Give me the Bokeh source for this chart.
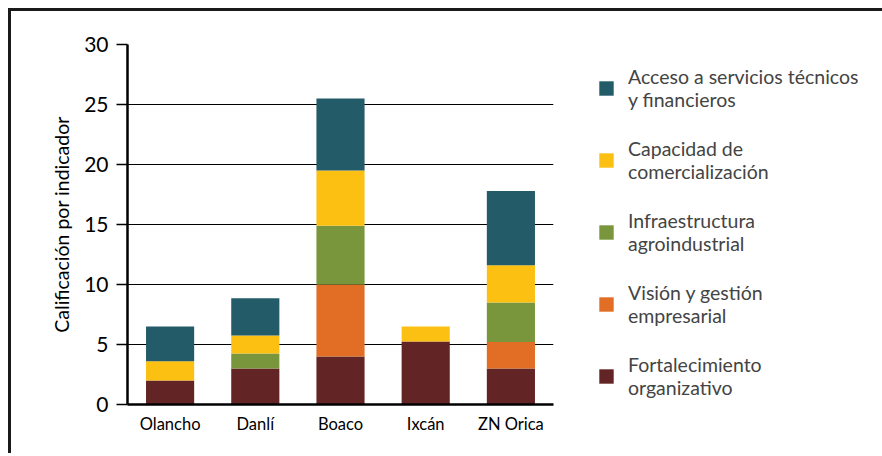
from bokeh.plotting import figure
from bokeh.models import Legend, LegendItem, FixedTicker, Range1d, FactorRange
from bokeh.embed import file_html
from bokeh.resources import INLINE

sites = ["Olancho", "Danlí", "Boaco", "Ixcán", "ZN Orica"]
fortalecimiento = [2.0, 3.0, 4.0, 5.25, 3.0]
vision = [0.0, 0.0, 6.0, 0.0, 2.2]
infraestructura = [0.0, 1.25, 4.9, 0.0, 3.3]
capacidad = [1.6, 1.5, 4.6, 1.25, 3.1]
acceso = [2.9, 3.1, 6.0, 0.0, 6.2]

series_keys = ["fort", "vis", "infra", "cap", "acc"]
series_labels = [
    "Fortalecimiento\norganizativo",
    "Visión y gestión\nempresarial",
    "Infraestructura\nagroindustrial",
    "Capacidad de\ncomercialización",
    "Acceso a servicios técnicos\ny financieros",
]
colors = ["#632425", "#E26D25", "#79963C", "#FBC012", "#235B68"]
y_ticks = [0, 5, 10, 15, 20, 25, 30]

FONT = "Lato"

data = dict(site=sites, fort=fortalecimiento, vis=vision, infra=infraestructura,
            cap=capacidad, acc=acceso)

p = figure(x_range=FactorRange(*sites, range_padding=0), y_range=Range1d(0, 30),
           frame_width=426, frame_height=360, output_backend="svg", toolbar_location=None,
           min_border_left=116, min_border_right=12, min_border_top=33, min_border_bottom=49)
p.styles = {"position": "absolute", "left": "8px", "top": "8px",
            "border-top": "3px solid #1a1a1a", "border-left": "3px solid #1a1a1a"}
p.outline_line_color = None
p.background_fill_color = "white"

renderers = p.vbar_stack(series_keys, x="site", width=0.565, color=colors, source=data,
                         line_color=None)

p.xgrid.grid_line_color = None
p.ygrid.grid_line_color = "black"
p.ygrid.grid_line_width = 1.2
p.ygrid.ticker = FixedTicker(ticks=y_ticks)

p.yaxis.ticker = FixedTicker(ticks=y_ticks)
p.yaxis.axis_line_width = 2.5
p.yaxis.axis_line_color = "black"
p.yaxis.major_tick_line_color = "black"
p.yaxis.major_tick_line_width = 1.5
p.yaxis.major_tick_out = 11
p.yaxis.major_tick_in = 0
p.yaxis.minor_tick_line_color = None
p.yaxis.major_label_text_font = FONT
p.yaxis.major_label_text_font_size = "21px"
p.yaxis.major_label_text_color = "black"
p.yaxis.major_label_standoff = 8
p.yaxis.axis_label = "Calificación por indicador"
p.yaxis.axis_label_text_font = FONT
p.yaxis.axis_label_text_font_size = "19.5px"
p.yaxis.axis_label_text_font_style = "normal"
p.yaxis.axis_label_text_color = "black"
p.yaxis.axis_label_standoff = 8

p.xaxis.axis_line_width = 2.5
p.xaxis.axis_line_color = "black"
p.xaxis.major_tick_line_color = None
p.xaxis.major_tick_out = 0
p.xaxis.major_tick_in = 0
p.xaxis.minor_tick_line_color = None
p.xaxis.major_label_text_font = FONT
p.xaxis.major_label_text_font_size = "16.5px"
p.xaxis.major_label_text_color = "black"
p.xaxis.major_label_standoff = 9

items = [LegendItem(label=series_labels[i], renderers=[renderers[i]]) for i in range(4, -1, -1)]
legend = Legend(items=items, location=(44, 5), orientation="vertical",
                glyph_width=18, glyph_height=18, label_standoff=13,
                label_text_font=FONT, label_text_font_size="19.5px",
                label_text_line_height=1.28, spacing=26, padding=0, margin=0,
                border_line_color=None, background_fill_alpha=0)
p.add_layout(legend, "right")

open("out.html", "w").write(file_html(p, INLINE))
